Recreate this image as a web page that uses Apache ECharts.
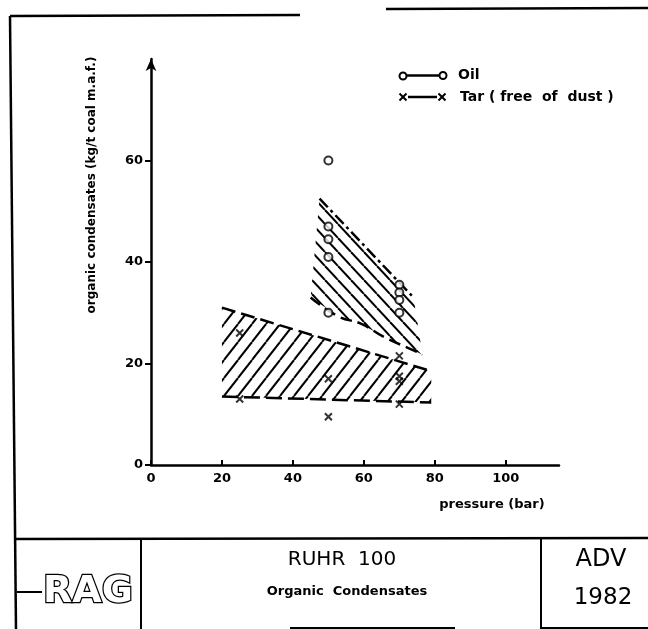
<!DOCTYPE html>
<html>
<head>
<meta charset="utf-8">
<script src="https://cdn.jsdelivr.net/npm/echarts@6/dist/echarts.min.js"></script>
<style>
  html, body { margin: 0; padding: 0; background: #fff; }
  #main { width: 648px; height: 629px; }
</style>
</head>
<body>
<div id="main"></div>
<script>
// measured points
var oilPressure = [50, 50, 50, 50, 50, 70, 70, 70, 70];
var oilValue = [60, 47, 44.5, 41, 30, 35.5, 34, 32.5, 30];
var tarPressure = [25, 25, 50, 50, 70, 70, 70, 70];
var tarValue = [26, 13, 17, 9.5, 21.5, 17.5, 16.5, 12];

// scatter band boundaries
var oilUpperX = [47.5, 74];
var oilUpperY = [52.5, 33];
var oilLowerX = [45, 53, 59, 66, 74, 76.5];
var oilLowerY = [33, 29.2, 27.9, 25.1, 22.6, 21.7];
var tarUpperX = [20, 79];
var tarUpperY = [31, 18.5];
var tarLowerX = [20, 79];
var tarLowerY = [13.5, 12.3];

var xTicks = [0, 20, 40, 60, 80, 100];
var yTicks = [0, 20, 40, 60];

var FONT = 'DejaVu Sans';

function zip(xs, ys) {
    return xs.map(function (x, i) { return [x, ys[i]]; });
}

function hatchPattern(w, h, rising, lw) {
    var c = document.createElement('canvas');
    c.width = w;
    c.height = h;
    var ctx = c.getContext('2d');
    ctx.strokeStyle = '#000';
    ctx.lineWidth = lw;
    for (var k = -1; k <= 1; k++) {
        ctx.beginPath();
        if (rising) {
            ctx.moveTo(k * w, h);
            ctx.lineTo(k * w + w, 0);
        } else {
            ctx.moveTo(k * w, 0);
            ctx.lineTo(k * w + w, h);
        }
        ctx.stroke();
    }
    return c;
}

var oilHatch = hatchPattern(13, 14, false, 2);
var tarHatch = hatchPattern(14, 18, true, 2);

function bandSeries(upX, upY, loX, loY, hatch) {
    var pts = zip(upX, upY).concat(zip(loX, loY).reverse());
    return {
        type: 'custom',
        silent: true,
        z: 1,
        data: [[pts[0][0], pts[0][1]]],
        renderItem: function (params, api) {
            var px = pts.map(function (p) { return api.coord(p); });
            return {
                type: 'polygon',
                shape: { points: px },
                style: { fill: { image: hatch, repeat: 'repeat' }, stroke: null }
            };
        }
    };
}

function boundary(xs, ys, dash, smooth) {
    return {
        type: 'line',
        data: zip(xs, ys),
        symbol: 'none',
        smooth: smooth || false,
        silent: true,
        z: 2,
        lineStyle: { color: '#000', width: 2.5, type: dash }
    };
}

function seg(x1, y1, x2, y2, w) {
    return {
        type: 'line',
        shape: { x1: x1, y1: y1, x2: x2, y2: y2 },
        style: { stroke: '#000', lineWidth: w || 2 }
    };
}

function cross(cx, cy, s) {
    return [seg(cx - s, cy - s, cx + s, cy + s, 2), seg(cx + s, cy - s, cx - s, cy + s, 2)];
}

var chartDom = document.getElementById('main');
var myChart = echarts.init(chartDom);

var graphics = [
    // frame
    seg(10, 16, 16, 629, 2.5),
    seg(10, 16, 300, 15, 2.5),
    seg(386, 9, 648, 8, 2.5),
    seg(15, 539, 648, 538, 2.5),
    seg(141, 539, 141, 629, 2),
    seg(541, 538, 541, 629, 2),
    seg(541, 628, 648, 628, 2),
    seg(290, 628, 455, 628, 2),
    // legend
    { type: 'circle', shape: { cx: 403, cy: 76, r: 3.5 }, style: { fill: '#fff', stroke: '#000', lineWidth: 2 } },
    seg(407, 75.5, 439, 75.5, 2.5),
    { type: 'circle', shape: { cx: 443, cy: 75.5, r: 3.5 }, style: { fill: '#fff', stroke: '#000', lineWidth: 2 } },
    { type: 'text', x: 458, y: 75, style: { text: 'Oil', font: 'bold 14px ' + FONT, fill: '#000', verticalAlign: 'middle' } },
    seg(408, 97, 437, 97, 2.5),
    { type: 'text', x: 460, y: 97, style: { text: 'Tar ( free  of  dust )', font: 'bold 14px ' + FONT, fill: '#000', verticalAlign: 'middle' } },
    // axis names
    {
        type: 'text', x: 92, y: 185, rotation: Math.PI / 2,
        style: { text: 'organic condensates (kg/t coal m.a.f.)', font: 'bold 12px ' + FONT, fill: '#000', align: 'center', verticalAlign: 'middle' }
    },
    { type: 'text', x: 492, y: 505, style: { text: 'pressure (bar)', font: 'bold 13px ' + FONT, fill: '#000', align: 'center', verticalAlign: 'middle' } },
    // title block
    seg(17, 592, 42, 592, 2),
    {
        type: 'text', x: 88, y: 592,
        style: { text: 'RAG', font: 'bold 38px ' + FONT, fill: '#fff', stroke: '#000', lineWidth: 2.5, align: 'center', verticalAlign: 'middle' }
    },
    { type: 'text', x: 342, y: 560, style: { text: 'RUHR  100', font: '20px ' + FONT, fill: '#000', align: 'center', verticalAlign: 'middle' } },
    { type: 'text', x: 347, y: 592, style: { text: 'Organic  Condensates', font: 'bold 13px ' + FONT, fill: '#000', align: 'center', verticalAlign: 'middle' } },
    { type: 'text', x: 601, y: 560, style: { text: 'ADV', font: '24px ' + FONT, fill: '#000', align: 'center', verticalAlign: 'middle' } },
    { type: 'text', x: 603, y: 598, style: { text: '1982', font: '23px ' + FONT, fill: '#000', align: 'center', verticalAlign: 'middle' } }
].concat(cross(403, 97, 3.5), cross(442, 97, 3.5));

var option = {
    animation: false,
    backgroundColor: '#fff',
    grid: { left: 151, right: 89, top: 59, bottom: 164 },
    xAxis: {
        type: 'value',
        min: 0,
        max: 115,
        interval: 20,
        splitLine: { show: false },
        axisLine: { lineStyle: { color: '#000', width: 2.5 } },
        axisTick: { inside: true, length: 5, lineStyle: { color: '#000', width: 2 }, customValues: xTicks },
        axisLabel: {
            customValues: xTicks,
            color: '#000', fontFamily: FONT, fontWeight: 'bold', fontSize: 13, margin: 7,
            formatter: function (v) { return xTicks.indexOf(v) >= 0 ? v : ''; }
        }
    },
    yAxis: {
        type: 'value',
        min: 0,
        max: 80,
        interval: 20,
        splitLine: { show: false },
        axisLine: { symbol: ['none', 'arrow'], symbolSize: [8, 12], lineStyle: { color: '#000', width: 2.5 } },
        axisTick: { length: 6, lineStyle: { color: '#000', width: 2 }, customValues: yTicks },
        axisLabel: {
            customValues: yTicks,
            color: '#000', fontFamily: FONT, fontWeight: 'bold', fontSize: 13, margin: 8,
            formatter: function (v) { return yTicks.indexOf(v) >= 0 ? v : ''; }
        }
    },
    graphic: graphics,
    series: [
        bandSeries(tarUpperX, tarUpperY, tarLowerX, tarLowerY, tarHatch),
        bandSeries(oilUpperX, oilUpperY, oilLowerX, oilLowerY, oilHatch),
        boundary(tarUpperX, tarUpperY, [14, 6]),
        boundary(tarLowerX, tarLowerY, [16, 6]),
        boundary(oilUpperX, oilUpperY, [12, 4, 3, 4]),
        boundary(oilLowerX, oilLowerY, [12, 6], true),
        {
            name: 'Oil',
            type: 'scatter',
            z: 3,
            data: zip(oilPressure, oilValue),
            symbol: 'circle',
            symbolSize: 8,
            itemStyle: { color: '#fff', borderColor: '#000', borderWidth: 2 }
        },
        {
            name: 'Tar (free of dust)',
            type: 'scatter',
            z: 3,
            data: zip(tarPressure, tarValue),
            symbol: 'path://M0,0L10,10M10,0L0,10',
            symbolSize: 7,
            itemStyle: { color: 'none', borderColor: '#000', borderWidth: 2 }
        }
    ]
};

option && myChart.setOption(option);
</script>
</body>
</html>
